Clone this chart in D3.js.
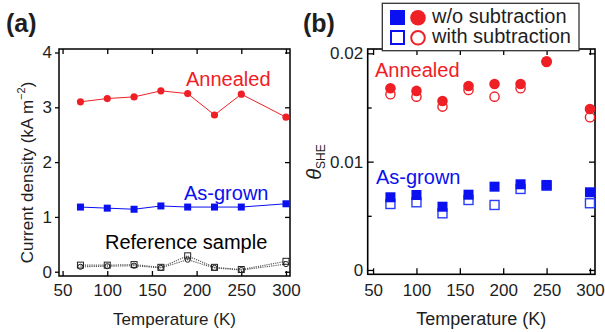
<!DOCTYPE html>
<html><head><meta charset="utf-8">
<script src="https://cdn.jsdelivr.net/npm/d3@7/dist/d3.min.js"></script>
<style>
body{margin:0;background:#fff;}
svg{display:block;font-family:"Liberation Sans",Arial,Helvetica,sans-serif;}
</style></head>
<body><svg id="c" width="605" height="332"></svg>
<script>
// ---------- data ----------
const temps = [70, 100, 130, 160, 190, 220, 250, 300];
const xTicks = [50, 100, 150, 200, 250, 300];
// panel (a): current density (kA m^-2)
const annealedJ = [3.10, 3.16, 3.19, 3.30, 3.25, 2.86, 3.24, 2.82];
const asGrownJ  = [1.18, 1.16, 1.14, 1.20, 1.18, 1.18, 1.18, 1.24];
const refSquareJ = [0.12, 0.12, 0.13, 0.08, 0.29, 0.08, 0.04, 0.19];
const refCircleJ = [0.09, 0.10, 0.11, 0.07, 0.22, 0.07, 0.03, 0.14];
const yTicksA = [0, 1, 2, 3, 4];
// panel (b): theta_SHE
const annealedTheta    = [0.01677, 0.01653, 0.01560, 0.01699, 0.01717, 0.01717, 0.01927, 0.01486];
const annealedThetaSub = [0.01622, 0.01600, 0.01508, 0.01662, 0.01600, 0.01677, 0.01920, 0.01410];
const asGrownTheta     = [0.00671, 0.00692, 0.00584, 0.00695, 0.00769, 0.00791, 0.00785, 0.00717];
const asGrownThetaSub  = [0.00609, 0.00625, 0.00523, 0.00646, 0.00600, 0.00748, 0.00778, 0.00616];
const yTicksB = [0, 0.01, 0.02];
const yMinorB = [0.005, 0.015];
const legendLabels = ["w/o subtraction", "with subtraction"];

// ---------- style ----------
const RED = "#ee2026", BLUE = "#0a10f0", INK = "#1e1e1e";
const svg = d3.select("#c");

function styleAxis(g, fs) {
  g.select(".domain").remove();
  g.selectAll("line").attr("stroke", "#000").attr("stroke-width", 1.3);
  g.selectAll("text").attr("fill", INK).attr("font-size", fs)
   .attr("font-family", '"Liberation Sans",Arial,Helvetica,sans-serif');
}

// ================= Panel (a) =================
const A = {l: 59, r: 290, t: 49, b: 276};
const xa = d3.scaleLinear().domain([46, 304.5]).range([A.l, A.r]);
const ya = d3.scaleLinear().domain([-0.078, 4.064]).range([A.b, A.t]);

svg.append("g").attr("transform", `translate(0,${A.b})`)
  .call(d3.axisBottom(xa).tickValues(xTicks).tickSizeInner(-5).tickSizeOuter(0).tickPadding(8))
  .call(g => styleAxis(g, 17));
svg.append("g").attr("transform", `translate(0,${A.t})`)
  .call(d3.axisTop(xa).tickValues(xTicks).tickSizeInner(-5).tickSizeOuter(0).tickFormat(""))
  .call(g => styleAxis(g, 17));
svg.append("g").attr("transform", `translate(${A.l},0)`)
  .call(d3.axisLeft(ya).tickValues(yTicksA).tickSizeInner(4).tickSizeOuter(0).tickPadding(3).tickFormat(d3.format("d")))
  .call(g => styleAxis(g, 17));
svg.append("g").attr("transform", `translate(${A.r},0)`)
  .call(d3.axisRight(ya).tickValues(yTicksA).tickSizeInner(-5).tickSizeOuter(0).tickFormat(""))
  .call(g => styleAxis(g, 17));
svg.append("rect").attr("x", A.l).attr("y", A.t).attr("width", A.r - A.l).attr("height", A.b - A.t)
  .attr("fill", "none").attr("stroke", "#000").attr("stroke-width", 1.5);

const lineA = arr => d3.line().x((d, i) => xa(temps[i])).y(d => ya(d))(arr);

// reference sample (dotted gray)
[refSquareJ, refCircleJ].forEach(arr => {
  svg.append("path").attr("d", lineA(arr)).attr("fill", "none")
    .attr("stroke", "#555").attr("stroke-width", 1.1).attr("stroke-dasharray", "1.2,1");
});
svg.append("g").selectAll("circle").data(refCircleJ).join("circle")
  .attr("cx", (d, i) => xa(temps[i])).attr("cy", d => ya(d)).attr("r", 2.6)
  .attr("fill", "none").attr("stroke", "#222").attr("stroke-width", 1);
svg.append("g").selectAll("rect").data(refSquareJ).join("rect")
  .attr("x", (d, i) => xa(temps[i]) - 3).attr("y", d => ya(d) - 3).attr("width", 6).attr("height", 6)
  .attr("fill", "none").attr("stroke", "#222").attr("stroke-width", 1);

// as-grown
svg.append("path").attr("d", lineA(asGrownJ)).attr("fill", "none").attr("stroke", BLUE).attr("stroke-width", 1);
svg.append("g").selectAll("rect").data(asGrownJ).join("rect")
  .attr("x", (d, i) => xa(temps[i]) - 3.5).attr("y", d => ya(d) - 3.5).attr("width", 7).attr("height", 7)
  .attr("fill", BLUE);
// annealed
svg.append("path").attr("d", lineA(annealedJ)).attr("fill", "none").attr("stroke", RED).attr("stroke-width", 1);
svg.append("g").selectAll("circle").data(annealedJ).join("circle")
  .attr("cx", (d, i) => xa(temps[i])).attr("cy", d => ya(d)).attr("r", 3.6).attr("fill", RED);

svg.append("text").attr("x", 186).attr("y", 86).attr("font-size", 20).attr("fill", RED).text("Annealed");
svg.append("text").attr("x", 184).attr("y", 199.5).attr("font-size", 20).attr("fill", BLUE).text("As-grown");
svg.append("text").attr("x", 105).attr("y", 248.5).attr("font-size", 20).attr("fill", "#000").text("Reference sample");

svg.append("text").attr("x", (A.l + A.r) / 2).attr("y", 325).attr("text-anchor", "middle")
  .attr("font-size", 17).attr("fill", INK).text("Temperature (K)");
const yl = svg.append("text").attr("transform", `translate(33,${172.5}) rotate(-90)`)
  .attr("text-anchor", "middle").attr("font-size", 17).attr("fill", INK);
yl.append("tspan").text("Current density (kA m");
yl.append("tspan").attr("font-size", 11).attr("dy", -8).text("−2");
yl.append("tspan").attr("dy", 8).text(")");

svg.append("text").attr("x", 6).attr("y", 32).attr("font-size", 25).attr("font-weight", "bold")
  .attr("fill", INK).text("(a)");

// ================= Panel (b) =================
const B = {l: 367.7, r: 595, t: 49, b: 274.3};
const xb = d3.scaleLinear().domain([43.8, 305.8]).range([B.l, B.r]);
const yb = d3.scaleLinear().domain([-0.0004, 0.0204]).range([B.b, B.t]);

svg.append("g").attr("transform", `translate(0,${B.b})`)
  .call(d3.axisBottom(xb).tickValues(xTicks).tickSizeInner(-6).tickSizeOuter(0).tickPadding(9.5))
  .call(g => styleAxis(g, 17));
svg.append("g").attr("transform", `translate(0,${B.t})`)
  .call(d3.axisTop(xb).tickValues(xTicks).tickSizeInner(-6).tickSizeOuter(0).tickFormat(""))
  .call(g => styleAxis(g, 17));
svg.append("g").attr("transform", `translate(${B.l},0)`)
  .call(d3.axisLeft(yb).tickValues(yTicksB).tickSizeInner(-6).tickSizeOuter(0).tickPadding(4.5)
    .tickFormat(d => d === 0 ? "0" : d3.format(".2f")(d)))
  .call(g => styleAxis(g, 17));
svg.append("g").attr("transform", `translate(${B.l},0)`)
  .call(d3.axisLeft(yb).tickValues(yMinorB).tickSizeInner(-4).tickSizeOuter(0).tickFormat(""))
  .call(g => styleAxis(g, 17));
svg.append("g").attr("transform", `translate(${B.r},0)`)
  .call(d3.axisRight(yb).tickValues(yTicksB).tickSizeInner(-6).tickSizeOuter(0).tickFormat(""))
  .call(g => styleAxis(g, 17));
svg.append("g").attr("transform", `translate(${B.r},0)`)
  .call(d3.axisRight(yb).tickValues(yMinorB).tickSizeInner(-4).tickSizeOuter(0).tickFormat(""))
  .call(g => styleAxis(g, 17));
svg.append("rect").attr("x", B.l).attr("y", B.t).attr("width", B.r - B.l).attr("height", B.b - B.t)
  .attr("fill", "none").attr("stroke", "#000").attr("stroke-width", 1.6);

// open markers first, filled on top
svg.append("g").selectAll("rect").data(asGrownThetaSub).join("rect")
  .attr("x", (d, i) => xb(temps[i]) - 4.5).attr("y", d => yb(d) - 4.5).attr("width", 9).attr("height", 9)
  .attr("fill", "#fff").attr("stroke", "#2a3cff").attr("stroke-width", 1.4);
svg.append("g").selectAll("rect").data(asGrownTheta).join("rect")
  .attr("x", (d, i) => xb(temps[i]) - 5).attr("y", d => yb(d) - 5).attr("width", 10).attr("height", 10)
  .attr("fill", BLUE);
svg.append("g").selectAll("circle").data(annealedThetaSub).join("circle")
  .attr("cx", (d, i) => xb(temps[i])).attr("cy", d => yb(d)).attr("r", 4.6)
  .attr("fill", "#fff").attr("stroke", RED).attr("stroke-width", 1.4);
svg.append("g").selectAll("circle").data(annealedTheta).join("circle")
  .attr("cx", (d, i) => xb(temps[i])).attr("cy", d => yb(d)).attr("r", 5.3).attr("fill", RED);

svg.append("text").attr("x", 375).attr("y", 76.7).attr("font-size", 20).attr("fill", RED).text("Annealed");
svg.append("text").attr("x", 376).attr("y", 184).attr("font-size", 20).attr("fill", BLUE).text("As-grown");

svg.append("text").attr("x", (B.l + B.r) / 2).attr("y", 325).attr("text-anchor", "middle")
  .attr("font-size", 18).attr("fill", INK).text("Temperature (K)");
const th = svg.append("text").attr("transform", `translate(321,162) rotate(-90)`)
  .attr("text-anchor", "middle").attr("fill", INK);
th.append("tspan").attr("font-size", 20).attr("font-style", "italic").text("θ");
th.append("tspan").attr("font-size", 12).attr("dy", 4).text("SHE");

svg.append("text").attr("x", 303).attr("y", 32).attr("font-size", 25).attr("font-weight", "bold")
  .attr("fill", INK).text("(b)");

// legend
const lg = svg.append("g");
lg.append("rect").attr("x", 382.3).attr("y", 3.3).attr("width", 196.7).attr("height", 47.4)
  .attr("fill", "#fff").attr("stroke", "#333").attr("stroke-width", 1.3);
lg.append("rect").attr("x", 390).attr("y", 10).attr("width", 15).attr("height", 15).attr("fill", BLUE);
lg.append("circle").attr("cx", 418).attr("cy", 17.8).attr("r", 7.8).attr("fill", RED);
lg.append("rect").attr("x", 391).attr("y", 31).attr("width", 13).attr("height", 13)
  .attr("fill", "#fff").attr("stroke", BLUE).attr("stroke-width", 2);
lg.append("circle").attr("cx", 418).attr("cy", 37.8).attr("r", 6.8)
  .attr("fill", "#fff").attr("stroke", RED).attr("stroke-width", 2);
lg.selectAll("text.l").data(legendLabels).join("text").attr("class", "l")
  .attr("x", 432).attr("y", (d, i) => 23.3 + i * 20).attr("font-size", 20).attr("fill", INK).text(d => d);
</script></body></html>
